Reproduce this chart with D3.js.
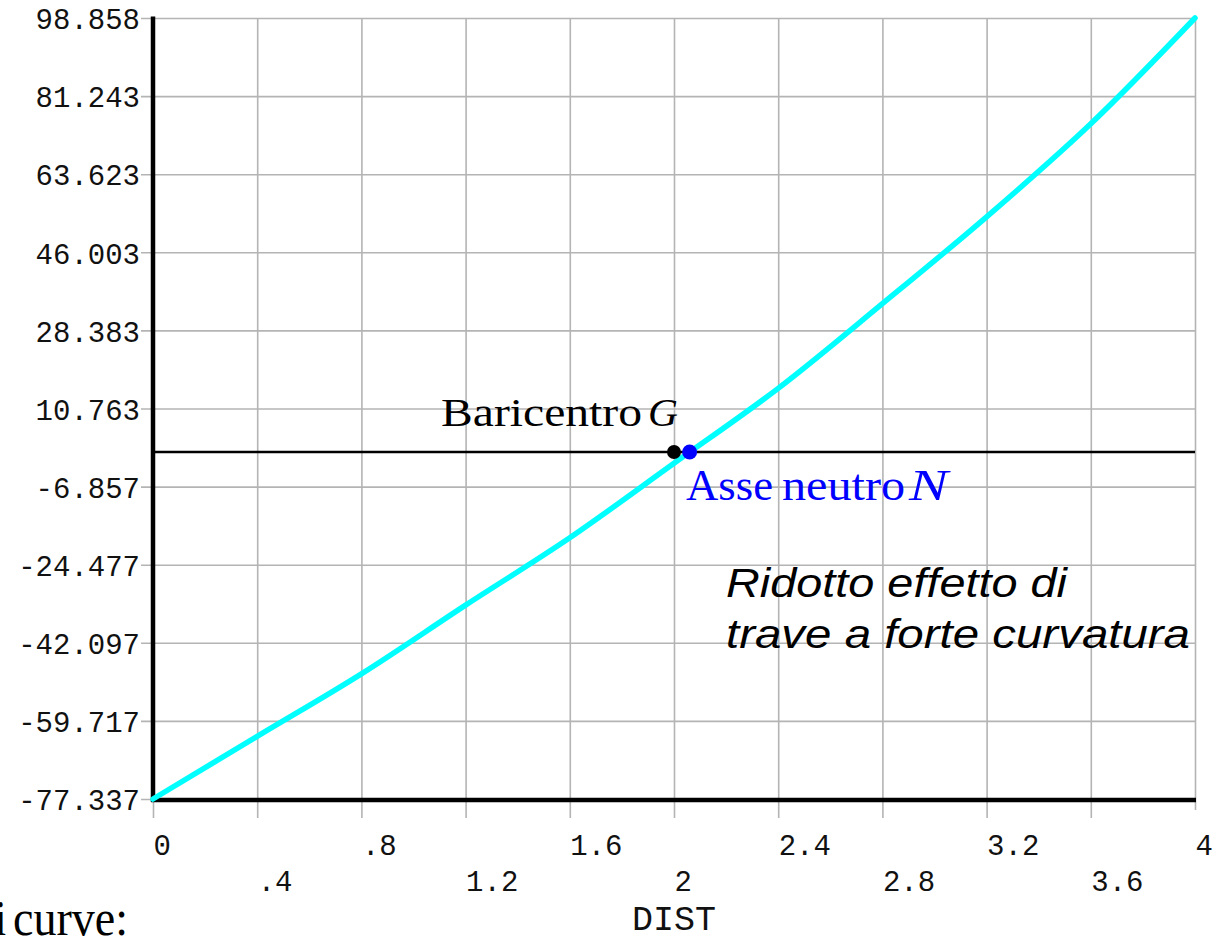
<!DOCTYPE html>
<html>
<head>
<meta charset="utf-8">
<script src="https://cdn.jsdelivr.net/npm/d3@7/dist/d3.min.js"></script>
<style>
  body { margin: 0; background: #fff; }
</style>
</head>
<body>
<script>
'use strict';

// values
var dist = [0, 0.4, 0.8, 1.2, 1.6, 2.0, 2.4, 2.8, 3.2, 3.6, 4.0];
var stress = [-77.337, -63.2, -49.1, -33.6, -18.4, -1.6, 15.3, 34.4, 54.0, 75.0, 98.858];

var xTickValues = [0, 0.4, 0.8, 1.2, 1.6, 2, 2.4, 2.8, 3.2, 3.6, 4];
var xTickLabels = ['0', '.4', '.8', '1.2', '1.6', '2', '2.4', '2.8', '3.2', '3.6', '4'];
var yTickValues = [98.858, 81.243, 63.623, 46.003, 28.383, 10.763, -6.857, -24.477, -42.097, -59.717, -77.337];
var yTickLabels = ['98.858', '81.243', '63.623', '46.003', '28.383', '10.763', '-6.857', '-24.477', '-42.097', '-59.717', '-77.337'];

var centroidLevel = 0.95;
var centroidDist = 2.0;
var neutralDist = 2.06;

//constants
var width = 1224,
  height = 940,
  marginLeft = 153,
  marginTop = 18,
  w = 1042,
  h = 781;

var mono = "'Liberation Mono', 'Courier New', monospace";
var serif = "'Liberation Serif', 'Times New Roman', serif";
var sans = "'Liberation Sans', Arial, sans-serif";

var svg = d3.select('body')
  .append('svg')
  .attr('width', width)
  .attr('height', height);

svg.append('rect')
  .attr('width', width)
  .attr('height', height)
  .attr('fill', '#fff');

var x = d3.scaleLinear().domain([0, 4]).range([0, w]);
var y = d3.scaleLinear().domain([-77.337, 98.858]).range([h, 0]);

var g = svg.append('g')
  .attr('transform', 'translate(' + marginLeft + ',' + marginTop + ')');

// y axis: grid lines + labels
var yAxis = d3.axisLeft(y)
  .tickValues(yTickValues)
  .tickFormat(function (d, i) { return yTickLabels[i]; })
  .tickSize(0)
  .tickPadding(13);

var yg = g.append('g').call(yAxis);
yg.select('.domain').remove();
yg.selectAll('.tick line')
  .attr('x1', -12)
  .attr('x2', w)
  .attr('stroke', '#b4b4b4')
  .attr('stroke-width', 1.6);
yg.selectAll('.tick text')
  .attr('dy', '0.37em')
  .attr('fill', '#111')
  .style('font-family', mono)
  .style('font-size', '29px');

// x axis: grid lines + staggered labels
var xAxis = d3.axisBottom(x)
  .tickValues(xTickValues)
  .tickFormat(function (d, i) { return xTickLabels[i]; })
  .tickSize(0);

var xg = g.append('g')
  .attr('transform', 'translate(0,' + h + ')')
  .call(xAxis);
xg.select('.domain').remove();
xg.selectAll('.tick line')
  .attr('y1', -h)
  .attr('y2', function (d, i) { return i === xTickValues.length - 1 ? 11 : 19; })
  .attr('stroke', '#b4b4b4')
  .attr('stroke-width', 1.6);
xg.selectAll('.tick text')
  .attr('text-anchor', 'start')
  .attr('x', 0)
  .attr('dy', 0)
  .attr('y', function (d, i) { return i % 2 === 0 ? 56 : 92; })
  .attr('fill', '#111')
  .style('font-family', mono)
  .style('font-size', '29px');

g.append('text')
  .attr('x', x(2))
  .attr('y', h + 131)
  .attr('text-anchor', 'middle')
  .attr('fill', '#111')
  .style('font-family', mono)
  .style('font-size', '35px')
  .text('DIST');

// centroid level line
g.append('line')
  .attr('x1', 0)
  .attr('x2', w)
  .attr('y1', y(centroidLevel))
  .attr('y2', y(centroidLevel))
  .attr('stroke', '#000')
  .attr('stroke-width', 2.5);

// axes
g.append('line')
  .attr('x1', 0).attr('x2', 0)
  .attr('y1', -1.5).attr('y2', h + 3)
  .attr('stroke', '#000')
  .attr('stroke-width', 4.5);

g.append('line')
  .attr('x1', -2).attr('x2', w + 1)
  .attr('y1', y(-77.337) + 1).attr('y2', y(-77.337) + 1)
  .attr('stroke', '#000')
  .attr('stroke-width', 4.5);

// stress curve
var line = d3.line()
  .x(function (d) { return x(d[0]); })
  .y(function (d) { return y(d[1]); })
  .curve(d3.curveCatmullRom);

g.append('path')
  .datum(d3.zip(dist, stress))
  .attr('d', line)
  .attr('fill', 'none')
  .attr('stroke', '#00ffff')
  .attr('stroke-width', 5.5)
  .attr('stroke-linecap', 'round');

// points G and N
g.append('circle')
  .attr('cx', x(centroidDist))
  .attr('cy', y(centroidLevel))
  .attr('r', 7)
  .attr('fill', '#000');

g.append('circle')
  .attr('cx', x(neutralDist))
  .attr('cy', y(centroidLevel))
  .attr('r', 7.5)
  .attr('fill', '#0000ff');

// annotations (page coordinates)
function label(txt, px, py, size, len, opts) {
  opts = opts || {};
  return svg.append('text')
    .attr('x', px)
    .attr('y', py)
    .attr('textLength', len)
    .attr('lengthAdjust', 'spacingAndGlyphs')
    .attr('fill', opts.color || '#000')
    .style('font-family', opts.family || serif)
    .style('font-style', opts.italic ? 'italic' : 'normal')
    .style('font-size', size + 'px')
    .text(txt);
}

label('Baricentro', 441, 426, 40, 201);
label('G', 648, 426, 40, 30, { italic: true });

label('Asse', 686, 500, 44, 87, { color: '#0000ff' });
label('neutro', 782, 500, 44, 123, { color: '#0000ff' });
label('N', 909, 500, 44, 39, { color: '#0000ff', italic: true });

label('Ridotto effetto di', 726, 597, 41, 341, { family: sans, italic: true });
label('trave a forte curvatura', 726, 648, 41, 464, { family: sans, italic: true });

label('i', -4, 935, 50, 10);
label('curve:', 13, 935, 50, 115);
</script>
</body>
</html>
